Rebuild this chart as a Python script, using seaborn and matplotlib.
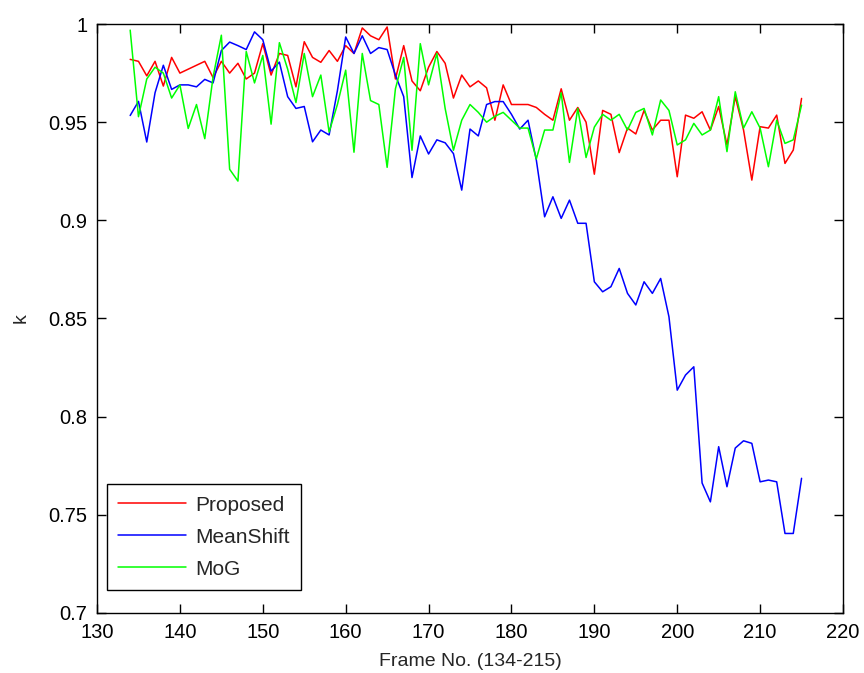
import matplotlib
matplotlib.use("Agg")
import matplotlib.pyplot as plt
import seaborn as sns
import pandas as pd

frames = list(range(134, 216))

proposed = [
    0.982, 0.981, 0.9736, 0.981, 0.9684, 0.983, 0.975, 0.977, 0.979, 0.981,
    0.9727, 0.981, 0.975, 0.980, 0.972, 0.975, 0.990, 0.974, 0.985, 0.984,
    0.968, 0.991, 0.983, 0.9805, 0.9865, 0.981, 0.989, 0.985, 0.998, 0.994,
    0.992, 0.9985, 0.972, 0.989, 0.971, 0.966, 0.978, 0.986, 0.980, 0.9623,
    0.974, 0.968, 0.971, 0.9675, 0.951, 0.969, 0.959, 0.959, 0.959, 0.9575,
    0.954, 0.951, 0.967, 0.951, 0.9575, 0.950, 0.9235, 0.956, 0.954, 0.9345,
    0.947, 0.944, 0.956, 0.946, 0.951, 0.951, 0.9222, 0.9536, 0.952, 0.9553,
    0.946, 0.958, 0.9384, 0.963, 0.946, 0.9205, 0.9477, 0.947, 0.9536, 0.929,
    0.9358, 0.9621,
]

meanshift = [
    0.9534, 0.9606, 0.9399, 0.965, 0.979, 0.9667, 0.969, 0.969, 0.968, 0.9718,
    0.970, 0.9865, 0.9908, 0.989, 0.987, 0.996, 0.992, 0.976, 0.9806, 0.963,
    0.957, 0.958, 0.940, 0.946, 0.9435, 0.966, 0.9934, 0.985, 0.994, 0.985,
    0.988, 0.987, 0.974, 0.963, 0.9218, 0.943, 0.9338, 0.941, 0.9395, 0.934,
    0.9154, 0.9465, 0.943, 0.959, 0.9605, 0.9605, 0.954, 0.9465, 0.951, 0.9307,
    0.9018, 0.912, 0.901, 0.9103, 0.8985, 0.8985, 0.8687, 0.8636, 0.8662, 0.8755,
    0.8628, 0.8569, 0.8687, 0.8628, 0.8704, 0.8509, 0.8135, 0.8212, 0.8254, 0.7662,
    0.7566, 0.7847, 0.7643, 0.784, 0.7877, 0.7864, 0.7668, 0.7677, 0.7668, 0.7405,
    0.7405, 0.7686,
]

mog = [
    0.9969, 0.9528, 0.972, 0.978, 0.975, 0.9623, 0.969, 0.9468, 0.959, 0.9416,
    0.973, 0.9943, 0.926, 0.920, 0.986, 0.970, 0.984, 0.949, 0.9905, 0.977,
    0.960, 0.985, 0.963, 0.974, 0.945, 0.959, 0.9765, 0.9347, 0.985, 0.961,
    0.959, 0.927, 0.967, 0.983, 0.9357, 0.990, 0.969, 0.985, 0.957, 0.9357,
    0.951, 0.959, 0.955, 0.950, 0.953, 0.955, 0.951, 0.947, 0.947, 0.9313,
    0.946, 0.946, 0.965, 0.9295, 0.957, 0.932, 0.9475, 0.954, 0.951, 0.954,
    0.946, 0.955, 0.957, 0.9435, 0.9613, 0.956, 0.9384, 0.941, 0.9494, 0.9435,
    0.946, 0.963, 0.935, 0.9655, 0.947, 0.9553, 0.947, 0.9273, 0.951, 0.9392,
    0.941, 0.9587,
]

series_names = ["Proposed", "MeanShift", "MoG"]
series_colors = ["#ff0000", "#0000ff", "#00ff00"]
x_ticks = [130, 140, 150, 160, 170, 180, 190, 200, 210, 220]
y_ticks = [0.7, 0.75, 0.8, 0.85, 0.9, 0.95, 1.0]
y_tick_labels = ["0.7", "0.75", "0.8", "0.85", "0.9", "0.95", "1"]

df = pd.concat([
    pd.DataFrame({"frame": frames, "k": vals, "method": name})
    for name, vals in zip(series_names, [proposed, meanshift, mog])
], ignore_index=True)

sns.set_style("white")
plt.rcParams["font.family"] = ["Liberation Sans", "DejaVu Sans"]

fig = plt.figure(figsize=(8.64, 6.73), dpi=100)
ax = fig.add_axes([0.1123, 0.0892, 0.8634, 0.8751])

sns.lineplot(data=df, x="frame", y="k", hue="method", hue_order=series_names,
             palette=dict(zip(series_names, series_colors)), linewidth=1.1,
             ax=ax, legend=True)

ax.set_xlim(130, 220)
ax.set_ylim(0.7, 1.0)
ax.set_xticks(x_ticks)
ax.set_yticks(y_ticks)
ax.set_yticklabels(y_tick_labels)
ax.tick_params(direction="in", length=6.5, width=1, top=True, right=True,
               bottom=True, left=True, labelsize=14.5, colors="black", pad=7)
for s in ax.spines.values():
    s.set_visible(True)
    s.set_color("black")
    s.set_linewidth(1.0)

ax.set_xlabel("Frame No. (134-215)", fontsize=14, labelpad=8)
ax.set_ylabel("k", fontsize=14, labelpad=13)

leg = ax.legend(loc="lower left", bbox_to_anchor=(0.013, 0.039),
                borderaxespad=0, fontsize=15, frameon=True, fancybox=False,
                handlelength=3.27, handletextpad=0.42, borderpad=0.55,
                labelspacing=0.62, edgecolor="black", title=None)
leg.get_frame().set_linewidth(1.0)
leg.get_frame().set_alpha(1.0)
for line in leg.get_lines():
    line.set_linewidth(1.1)

fig.savefig("out.png", dpi=100, facecolor="white")
